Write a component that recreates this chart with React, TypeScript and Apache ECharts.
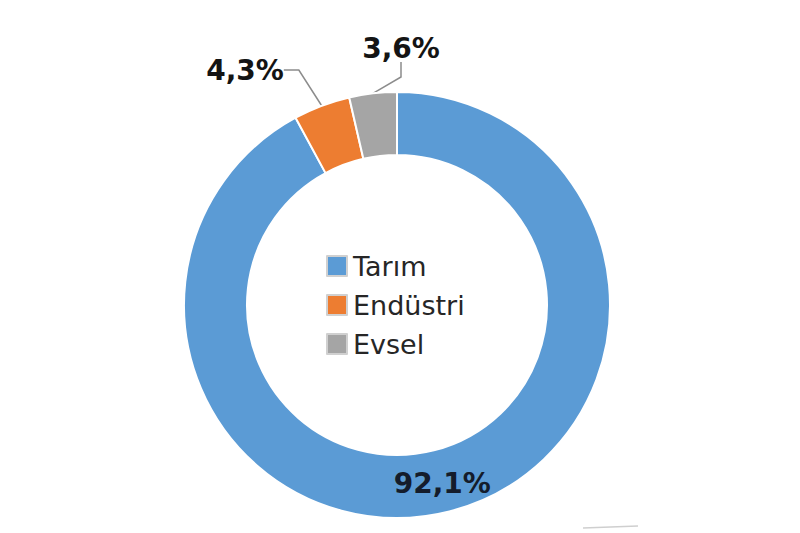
import React, { useEffect, useRef } from "react";
import * as echarts from "echarts";

const categories = ["Tarım", "Endüstri", "Evsel"];
const values = [92.1, 4.3, 3.6];
const colors = ["#5B9BD5", "#ED7D31", "#A5A5A5"];

export default function App() {
  const ref = useRef<HTMLDivElement>(null);
  useEffect(() => {
    if (!ref.current) return;
    const chart = echarts.init(ref.current, undefined, { renderer: "svg" });
    const labelPos: Record<number, [number, number]> = {
      1: [245, 70],
      2: [401, 48],
    };
    chart.setOption({
      animation: false,
      backgroundColor: "#ffffff",
      legend: {
        orient: "vertical",
        left: 321,
        top: 247,
        itemWidth: 20,
        itemHeight: 20,
        itemGap: 11,
        icon: "rect",
        itemStyle: { borderColor: "#d0d0d0", borderWidth: 2 },
        textStyle: {
          fontFamily: "DejaVu Sans",
          fontSize: 27,
          lineHeight: 28,
          color: "#262626",
          padding: [0, 0, 0, 1],
        },
        data: categories,
      },
      graphic: [
        {
          type: "line",
          shape: { x1: 583, y1: 528, x2: 638, y2: 526 },
          style: { stroke: "#cfcfcf", lineWidth: 1.5 },
        },
      ],
      series: [
        {
          type: "pie",
          center: [397, 305],
          radius: [150, 213],
          startAngle: 90,
          clockwise: true,
          avoidLabelOverlap: false,
          itemStyle: { borderColor: "#ffffff", borderWidth: 2 },
          label: {
            show: true,
            formatter: (p: any) => String(p.value).replace(".", ",") + "%",
            fontFamily: "DejaVu Sans",
            fontWeight: "bold",
            fontSize: 28,
            color: "#141414",
          },
          labelLine: {
            show: true,
            lineStyle: { color: "#8c8c8c", width: 1.5 },
            length: 15,
            length2: 15,
          },
          labelLayout: (params: any) => {
            const p = labelPos[params.dataIndex];
            if (!p) return {};
            return { x: p[0], y: p[1], align: "center", verticalAlign: "middle" };
          },
          data: categories.map((c, i) => ({
            name: c,
            value: values[i],
            itemStyle: { color: colors[i] },
            label:
              i === 0
                ? { position: "inside", color: "#141c2b" }
                : { position: "outside" },
            labelLine: { show: i !== 0 },
          })),
        },
      ],
    });
    return () => chart.dispose();
  }, []);
  return (
    <div
      ref={ref}
      style={{ position: "fixed", left: 0, top: 0, width: 800, height: 533 }}
    />
  );
}
